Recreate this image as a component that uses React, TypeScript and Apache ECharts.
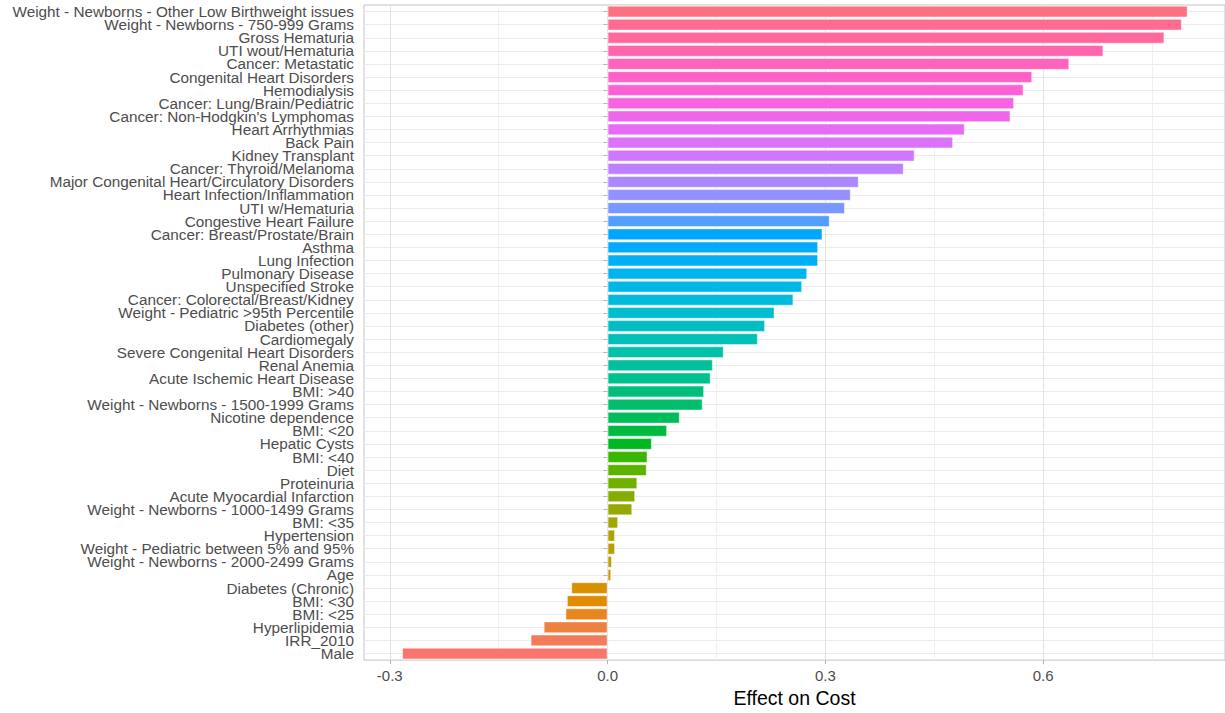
import React, { useEffect, useRef } from "react";
import * as echarts from "echarts";

// Categories, top to bottom as shown
const categories: string[] = [
  "Weight - Newborns - Other Low Birthweight issues",
  "Weight - Newborns - 750-999 Grams",
  "Gross Hematuria",
  "UTI wout/Hematuria",
  "Cancer: Metastatic",
  "Congenital Heart Disorders",
  "Hemodialysis",
  "Cancer: Lung/Brain/Pediatric",
  "Cancer: Non-Hodgkin's Lymphomas",
  "Heart Arrhythmias",
  "Back Pain",
  "Kidney Transplant",
  "Cancer: Thyroid/Melanoma",
  "Major Congenital Heart/Circulatory Disorders",
  "Heart Infection/Inflammation",
  "UTI w/Hematuria",
  "Congestive Heart Failure",
  "Cancer: Breast/Prostate/Brain",
  "Asthma",
  "Lung Infection",
  "Pulmonary Disease",
  "Unspecified Stroke",
  "Cancer: Colorectal/Breast/Kidney",
  "Weight - Pediatric >95th Percentile",
  "Diabetes (other)",
  "Cardiomegaly",
  "Severe Congenital Heart Disorders",
  "Renal Anemia",
  "Acute Ischemic Heart Disease",
  "BMI: >40",
  "Weight - Newborns - 1500-1999 Grams",
  "Nicotine dependence",
  "BMI: <20",
  "Hepatic Cysts",
  "BMI: <40",
  "Diet",
  "Proteinuria",
  "Acute Myocardial Infarction",
  "Weight - Newborns - 1000-1499 Grams",
  "BMI: <35",
  "Hypertension",
  "Weight - Pediatric between 5% and 95%",
  "Weight - Newborns - 2000-2499 Grams",
  "Age",
  "Diabetes (Chronic)",
  "BMI: <30",
  "BMI: <25",
  "Hyperlipidemia",
  "IRR_2010",
  "Male",
];

// Effect on cost, same order
const effects: number[] = [
  0.799, 0.791, 0.767, 0.683, 0.636, 0.585, 0.573, 0.56, 0.555, 0.492,
  0.476, 0.423, 0.408, 0.346, 0.335, 0.327, 0.306, 0.296, 0.29, 0.29,
  0.275, 0.268, 0.256, 0.23, 0.217, 0.207, 0.16, 0.145, 0.142, 0.133,
  0.131, 0.0995, 0.082, 0.061, 0.055, 0.054, 0.041, 0.038, 0.034, 0.0145,
  0.0103, 0.0103, 0.006, 0.005, -0.05, -0.056, -0.058, -0.088, -0.106, -0.283,
];

const xMajorTicks: number[] = [-0.3, 0, 0.3, 0.6];
const xGridTicks: number[] = [-0.3, -0.15, 0, 0.15, 0.3, 0.45, 0.6, 0.75];

// ggplot2-like hue palette colour (HCL, L=65, C=100)
function hcl(h: number, c = 100, l = 65): string {
  const hr = (h * Math.PI) / 180;
  const U = c * Math.cos(hr);
  const V = c * Math.sin(hr);
  const Xn = 95.047, Yn = 100, Zn = 108.883;
  const den = Xn + 15 * Yn + 3 * Zn;
  const un = (4 * Xn) / den, vn = (9 * Yn) / den;
  const Y = l > 8 ? Math.pow((l + 16) / 116, 3) : l / 903.3;
  const u = U / (13 * l) + un;
  const v = V / (13 * l) + vn;
  const X = (9 * Y * u) / (4 * v);
  const Z = -X / 3 - 5 * Y + (3 * Y) / v;
  const g = (t: number) => {
    const x = t <= 0.0031308 ? 12.92 * t : 1.055 * Math.pow(t, 1 / 2.4) - 0.055;
    return Math.round(Math.max(0, Math.min(1, x)) * 255);
  };
  const R = g(3.240479 * X - 1.53715 * Y - 0.498535 * Z);
  const G = g(-0.969256 * X + 1.875992 * Y + 0.041556 * Z);
  const B = g(0.055648 * X - 0.204043 * Y + 1.057311 * Z);
  return "#" + [R, G, B].map((n) => n.toString(16).padStart(2, "0")).join("");
}

const FONT = "'Liberation Sans', Arial, sans-serif";

export default function App() {
  const ref = useRef<HTMLDivElement>(null);
  useEffect(() => {
    if (!ref.current) return;
    const chart = echarts.init(ref.current, undefined, { renderer: "svg" });
    const n = categories.length;
    const step = 360 / n;
    const data = effects.map((v, i) => ({
      value: v,
      itemStyle: { color: hcl(15 + (n - 1 - i) * step) },
    }));
    const xMin = -0.3355;
    const xMax = 0.8505;
    chart.setOption({
      animation: false,
      backgroundColor: "#ffffff",
      grid: {
        left: 364,
        right: 0,
        top: 5,
        bottom: 50,
        show: true,
        borderColor: "#C4C4C4",
        borderWidth: 1,
        backgroundColor: "transparent",
      },
      xAxis: [
        {
          type: "value",
          min: xMin,
          max: xMax,
          axisLine: { show: false },
          axisTick: { show: false, customValues: xGridTicks },
          axisLabel: { show: false, customValues: xGridTicks },
          splitLine: {
            show: true,
            lineStyle: { color: ["#E3E3E3", "#F1F1F1"], width: 1 },
          },
        },
        {
          type: "value",
          min: xMin,
          max: xMax,
          position: "bottom",
          axisLine: { show: false },
          axisTick: {
            show: true,
            customValues: xMajorTicks,
            length: 4,
            lineStyle: { color: "#B3B3B3" },
          },
          axisLabel: {
            customValues: xMajorTicks,
            formatter: (v: number) => v.toFixed(1),
            color: "#4D4D4D",
            fontSize: 15,
            fontFamily: FONT,
            margin: 8,
          },
          splitLine: { show: false },
          name: "Effect on Cost",
          nameLocation: "middle",
          nameGap: 26,
          nameTextStyle: { color: "#000000", fontSize: 19.5, fontFamily: FONT },
        },
      ],
      yAxis: {
        type: "category",
        data: categories,
        inverse: true,
        axisLine: { show: false },
        axisTick: {
          show: true,
          alignWithLabel: true,
          length: 4,
          lineStyle: { color: "#B3B3B3" },
        },
        axisLabel: {
          interval: 0,
          margin: 10,
          color: "#4D4D4D",
          fontSize: 15.3,
          lineHeight: 13,
          fontFamily: FONT,
        },
        splitLine: {
          show: true,
          alignWithLabel: true,
          lineStyle: { color: "#EBEBEB", width: 1 },
        },
      },
      series: [
        {
          type: "bar",
          xAxisIndex: 0,
          data,
          barWidth: "90%",
          itemStyle: { borderColor: "rgba(255,255,255,0.45)", borderWidth: 1 },
        },
      ],
    });
    return () => chart.dispose();
  }, []);
  return (
    <div
      ref={ref}
      style={{ position: "absolute", left: 0, top: 0, width: 1225, height: 713 }}
    />
  );
}
